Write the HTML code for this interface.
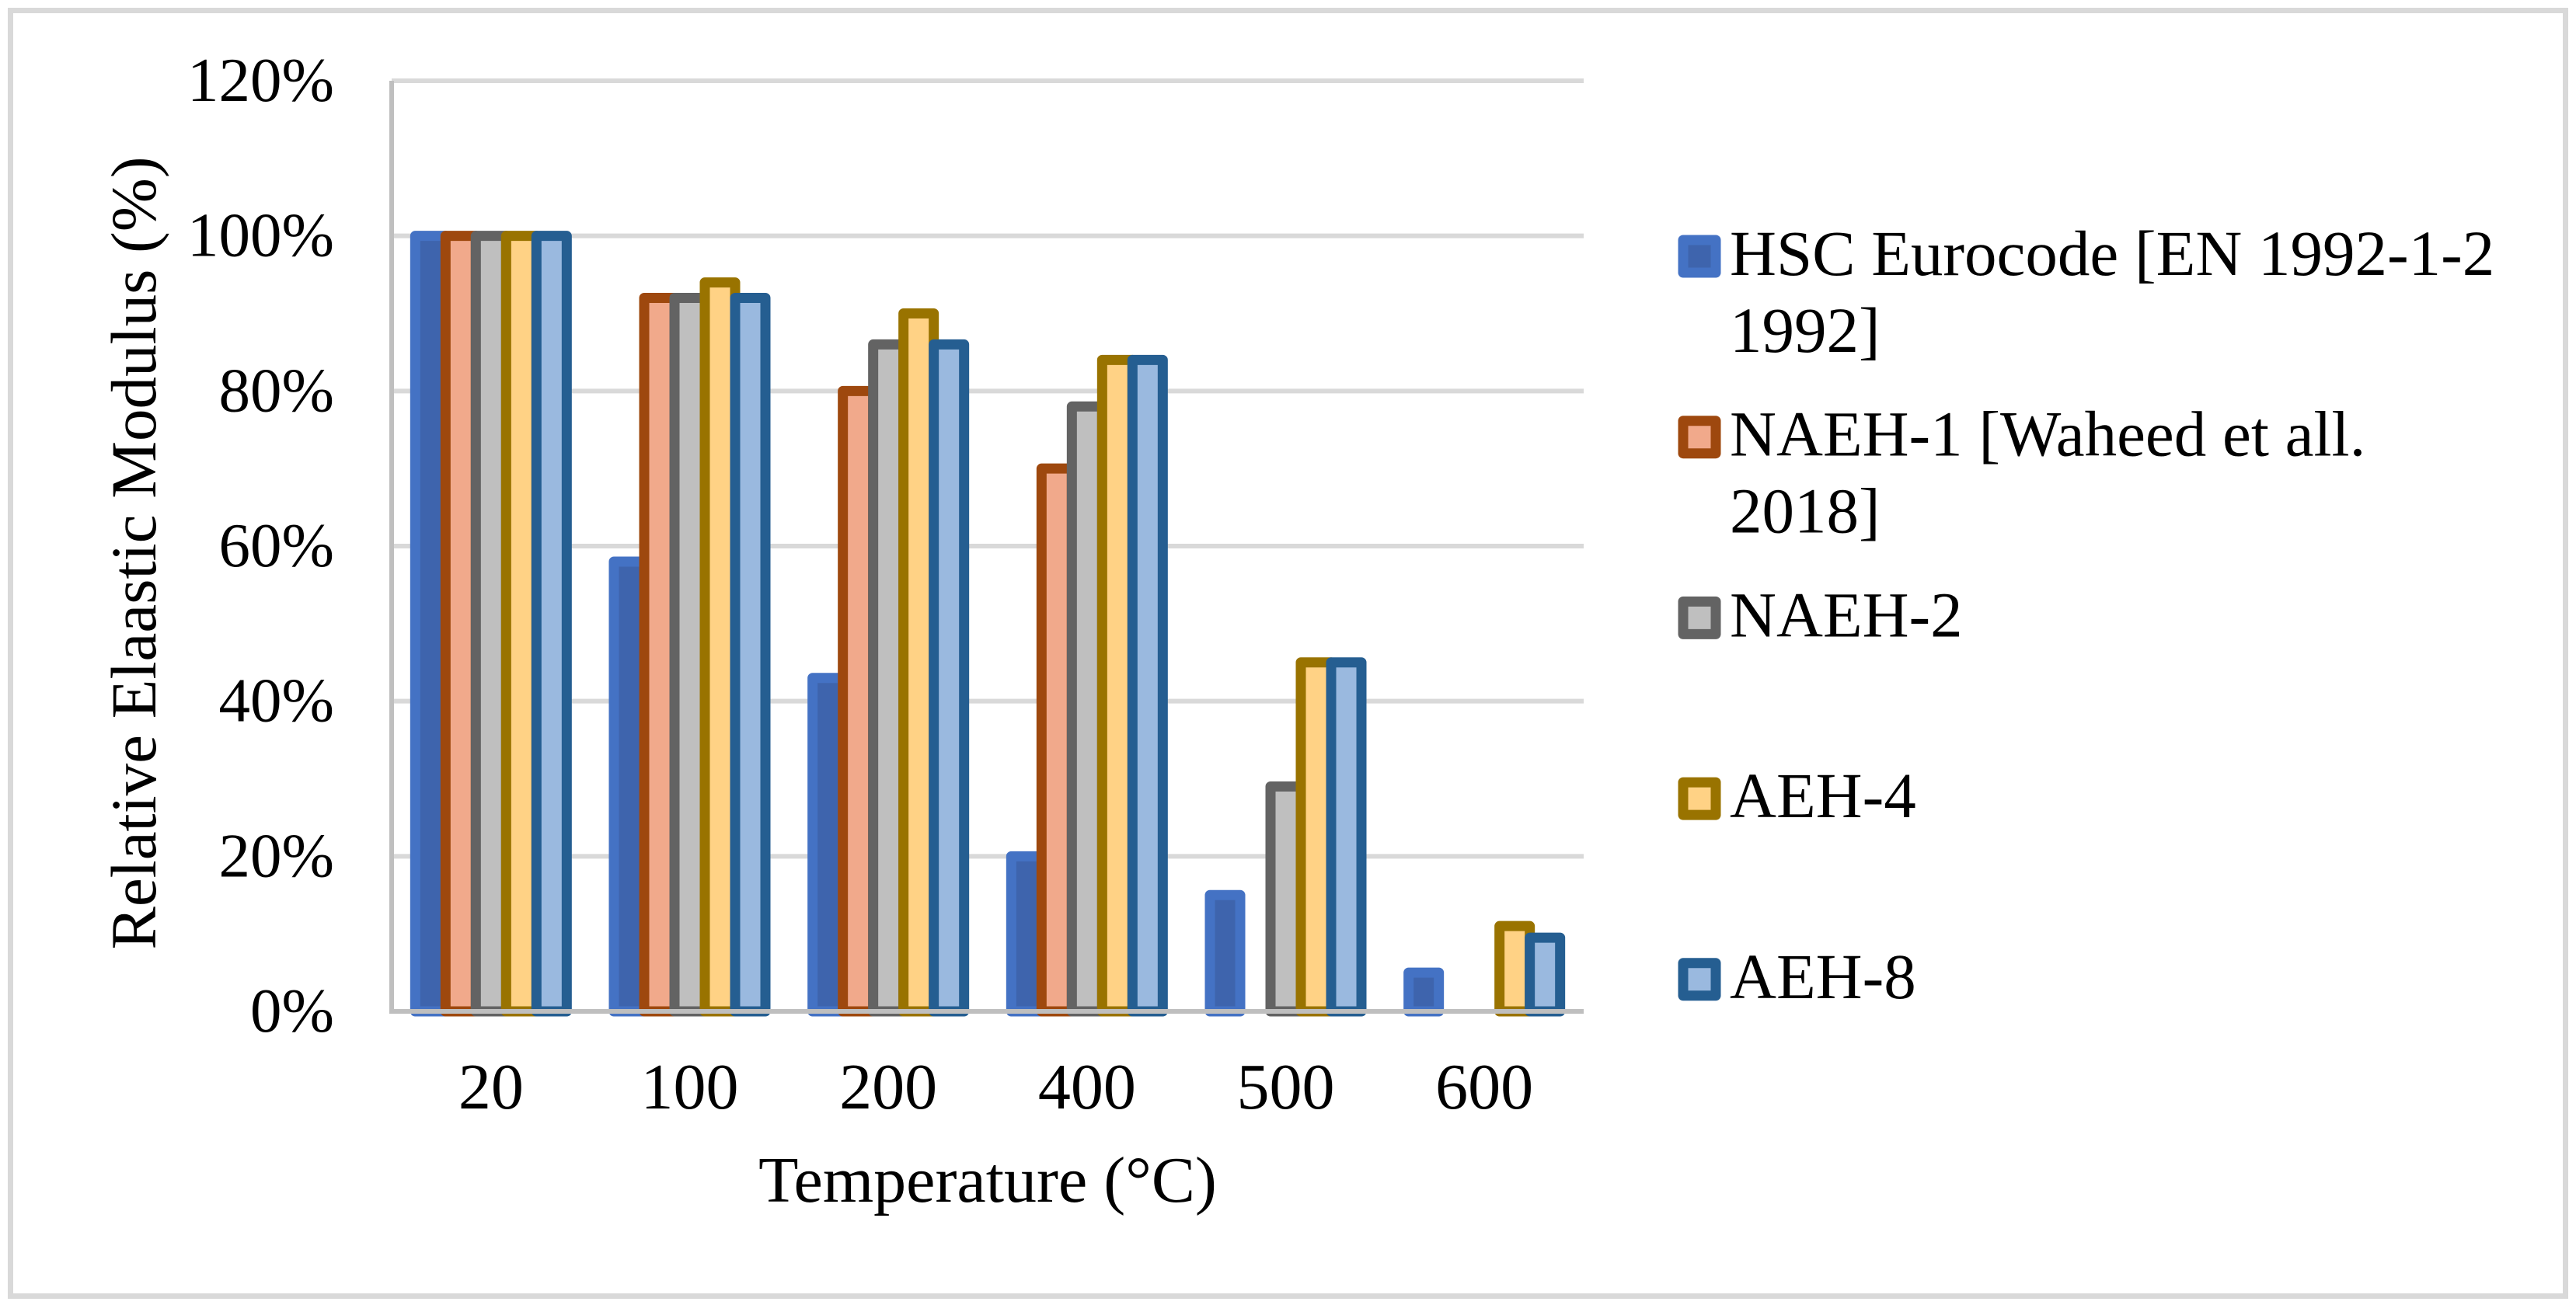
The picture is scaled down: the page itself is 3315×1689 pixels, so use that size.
<!DOCTYPE html>
<html><head><meta charset="utf-8"><style>
html,body{margin:0;padding:0;background:#fff;}
svg{display:block;}
svg text{font-family:"Liberation Serif","Times New Roman",serif;}
</style></head><body>
<svg id="chart" width="3315" height="1689" viewBox="0 0 3315 1689" xmlns="http://www.w3.org/2000/svg" font-family="Liberation Serif, serif">
<rect x="13.5" y="13.5" width="3288" height="1655" fill="#fff" stroke="#D9D9D9" stroke-width="7"/>
<g id="grid"></g>
<g id="bars"></g>
<g id="axes"></g>
<text transform="translate(200,712) rotate(-90)" text-anchor="middle" font-size="83" fill="#000">Relative Elaastic Modulus (%)</text>
<text x="1271" y="1547" text-anchor="middle" font-size="84" fill="#000">Temperature (°C)</text>
<g id="legend"></g>
</svg>
<script>
const categories = ["20","100","200","400","500","600"];
const seriesNames = ["HSC Eurocode [EN 1992-1-2 1992]","NAEH-1 [Waheed et all. 2018]","NAEH-2","AEH-4","AEH-8"];
const hsc = [100,58,43,20,15,5];
const naeh1 = [100,92,80,70,0,0];
const naeh2 = [100,92,86,78,29,0];
const aeh4 = [100,94,90,84,45,11];
const aeh8 = [100,92,86,84,45,9.5];
const yTicks = [0,20,40,60,80,100,120];
const yTickLabels = ["0%","20%","40%","60%","80%","100%","120%"];

const series = [hsc,naeh1,naeh2,aeh4,aeh8];
const strokes = ["#4472C4","#9E480E","#636363","#997300","#255E91"];
const fills = ["#3E64AD","#F1A98B","#BFBFBF","#FFD285","#9AB9DF"];
const NS = "http://www.w3.org/2000/svg";
const L = 504, R = 2038, T = 104, B = 1302;
const yScale = v => B - (v / 120) * (B - T);
const band = (R - L) / categories.length;
const xCenter = i => L + band * (i + 0.5);
const barW = 39;

const grid = document.getElementById('grid');
const axes = document.getElementById('axes');
yTicks.forEach((t, i) => {
  const y = yScale(t);
  if (t !== 0) {
    const ln = document.createElementNS(NS, 'line');
    
    
    ln.setAttribute('x1', L); ln.setAttribute('x2', R);
    ln.setAttribute('y1', y); ln.setAttribute('y2', y);
    ln.setAttribute('stroke', '#D9D9D9'); ln.setAttribute('stroke-width', 6);
    grid.appendChild(ln);
  }
  const tx = document.createElementNS(NS, 'text');
  
  
  tx.setAttribute('x', 430); tx.setAttribute('y', y + 26);
  tx.setAttribute('text-anchor', 'end'); tx.setAttribute('font-size', 81);
  tx.textContent = yTickLabels[i];
  axes.appendChild(tx);
});

const bars = document.getElementById('bars');
series.forEach((vals, s) => {
  vals.forEach((v, i) => {
    if (v <= 0) return;
    const x = xCenter(i) - 2.5 * barW + s * barW;
    const r = document.createElementNS(NS, 'rect');
    
    
    r.setAttribute('x', x); r.setAttribute('width', barW);
    r.setAttribute('y', yScale(v)); r.setAttribute('height', B - yScale(v));
    r.setAttribute('fill', fills[s]); r.setAttribute('stroke', strokes[s]);
    r.setAttribute('stroke-width', 13); r.setAttribute('stroke-linejoin', 'round');
    bars.appendChild(r);
  });
});

const yl = document.createElementNS(NS, 'line');


yl.setAttribute('x1', L); yl.setAttribute('x2', L); yl.setAttribute('y1', T); yl.setAttribute('y2', B + 3);
yl.setAttribute('stroke', '#BFBFBF'); yl.setAttribute('stroke-width', 6);
axes.appendChild(yl);
const xl = document.createElementNS(NS, 'line');


xl.setAttribute('x1', L - 3); xl.setAttribute('x2', R); xl.setAttribute('y1', B); xl.setAttribute('y2', B);
xl.setAttribute('stroke', '#BFBFBF'); xl.setAttribute('stroke-width', 6);
axes.appendChild(xl);

categories.forEach((c, i) => {
  const tx = document.createElementNS(NS, 'text');
  
  
  tx.setAttribute('x', xCenter(i)); tx.setAttribute('y', 1427);
  tx.setAttribute('text-anchor', 'middle'); tx.setAttribute('font-size', 84);
  tx.textContent = c;
  axes.appendChild(tx);
});

const legend = document.getElementById('legend');
const legendLines = [["HSC Eurocode [EN 1992-1-2","1992]"],["NAEH-1 [Waheed et all.","2018]"],["NAEH-2"],["AEH-4"],["AEH-8"]];
legendLines.forEach((lines, s) => {
  const cy = 330 + s * 232.7;
  const m = document.createElementNS(NS, 'rect');
  
  
  m.setAttribute('x', 2166); m.setAttribute('y', cy - 21);
  m.setAttribute('width', 42); m.setAttribute('height', 42);
  m.setAttribute('fill', fills[s]); m.setAttribute('stroke', strokes[s]);
  m.setAttribute('stroke-width', 13); m.setAttribute('stroke-linejoin', 'round');
  legend.appendChild(m);
  lines.forEach((ln, k) => {
    const tx = document.createElementNS(NS, 'text');
    
    
    tx.setAttribute('x', 2226); tx.setAttribute('y', cy + 24 + k * 99);
    tx.setAttribute('font-size', 83);
    tx.textContent = ln;
    legend.appendChild(tx);
  });
});
</script>
</body></html>
